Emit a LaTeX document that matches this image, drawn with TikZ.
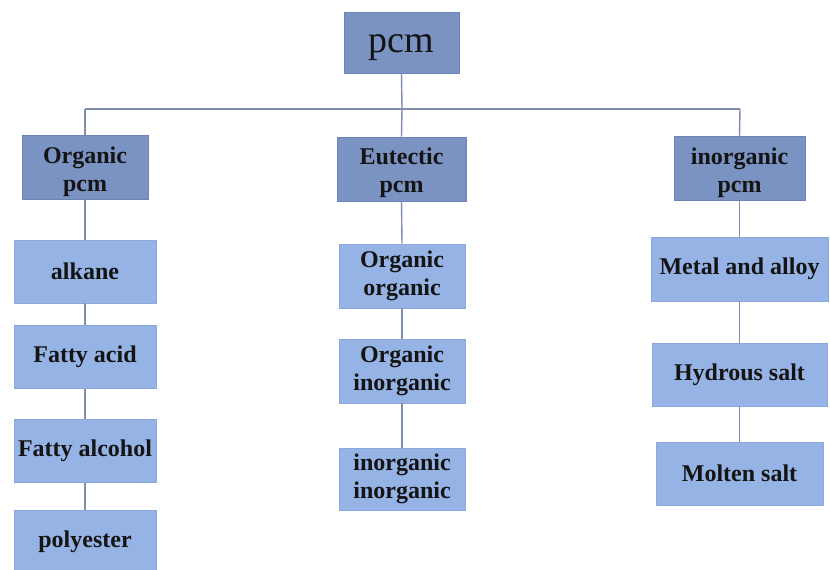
\documentclass[tikz,border=0pt]{standalone}
\usepackage{fontspec}
\setmainfont{Liberation Serif}
\definecolor{midfill}{HTML}{7B93C2}
\definecolor{midline}{HTML}{6C84B3}
\definecolor{leaffill}{HTML}{95B3E4}
\definecolor{leafline}{HTML}{8AA8DA}
\definecolor{conn}{HTML}{7F8FAA}
\definecolor{txt}{HTML}{141414}
\tikzset{
  topbox/.style={draw=midline, fill=midfill, line width=0.8pt, minimum width=115pt, minimum height=61pt, inner sep=0pt},
  toptext/.style={font=\fontsize{38}{40}\selectfont, text=txt, inner sep=0pt},
  midbox/.style={draw=midline, fill=midfill, line width=0.8pt, minimum height=64pt, inner sep=0pt},
  midtext/.style={align=center, font=\fontsize{24}{28}\selectfont\bfseries, text=txt, inner sep=0pt},
  leafbox/.style={draw=leafline, fill=leaffill, line width=0.6pt, minimum height=63pt, inner sep=0pt, align=center, font=\fontsize{24}{28}\selectfont\bfseries, text=txt},
  link/.style={draw=conn, line width=1.4pt}
}
\begin{document}
\begin{tikzpicture}[x=1pt, y=-1pt]
\useasboundingbox (0,0) rectangle (830,570);
\coordinate (hl) at (85,109);
\coordinate (hm) at (402,109);
\coordinate (hr) at (740,109);
\node[topbox, label={[toptext, yshift=-5pt]center:pcm}] (top) at (401.5,42.5) {};
\node[midbox, minimum width=126pt, label={[midtext, yshift=-4pt]center:Organic\\pcm}] (org) at (85,167.5) {};
\node[midbox, minimum width=129pt, label={[midtext, yshift=-4pt]center:Eutectic\\pcm}] (eut) at (401.5,169) {};
\node[midbox, minimum width=131pt, label={[midtext, yshift=-4pt]center:inorganic\\pcm}] (ino) at (739.5,168.5) {};
\node[leafbox, minimum width=142pt] (alk) at (85,271.5) {alkane};
\node[leafbox, minimum width=142pt] (fac) at (85,357) {Fatty acid};
\node[leafbox, minimum width=142pt] (fal) at (85,451) {Fatty alcohol};
\node[leafbox, minimum width=142pt] (pol) at (85,541.5) {polyester};
\node[leafbox, minimum width=126pt, minimum height=64pt] (oo) at (402,276) {Organic\\organic};
\node[leafbox, minimum width=126pt, minimum height=64pt] (oi) at (402,371) {Organic\\inorganic};
\node[leafbox, minimum width=126pt, minimum height=62pt] (ii) at (402,479) {inorganic\\inorganic};
\node[leafbox, minimum width=177pt, minimum height=64pt] (met) at (739.5,269) {Metal and alloy};
\node[leafbox, minimum width=175pt] (hyd) at (739.5,374.5) {Hydrous salt};
\node[leafbox, minimum width=167pt] (mol) at (739.5,473.5) {Molten salt};
\draw[link] (top.south) -- (hm);
\draw[link] (hl) -- (hr);
\draw[link] (hl) -- (org.north);
\draw[link] (hm) -- (eut.north);
\draw[link] (hr) -- (ino.north);
\draw[link] (org.south) -- (alk.north);
\draw[link] (alk.south) -- (fac.north);
\draw[link] (fac.south) -- (fal.north);
\draw[link] (fal.south) -- (pol.north);
\draw[link] (eut.south) -- (oo.north);
\draw[link] (oo.south) -- (oi.north);
\draw[link] (oi.south) -- (ii.north);
\draw[link] (ino.south) -- (met.north);
\draw[link] (met.south) -- (hyd.north);
\draw[link] (hyd.south) -- (mol.north);
\end{tikzpicture}
\end{document}
